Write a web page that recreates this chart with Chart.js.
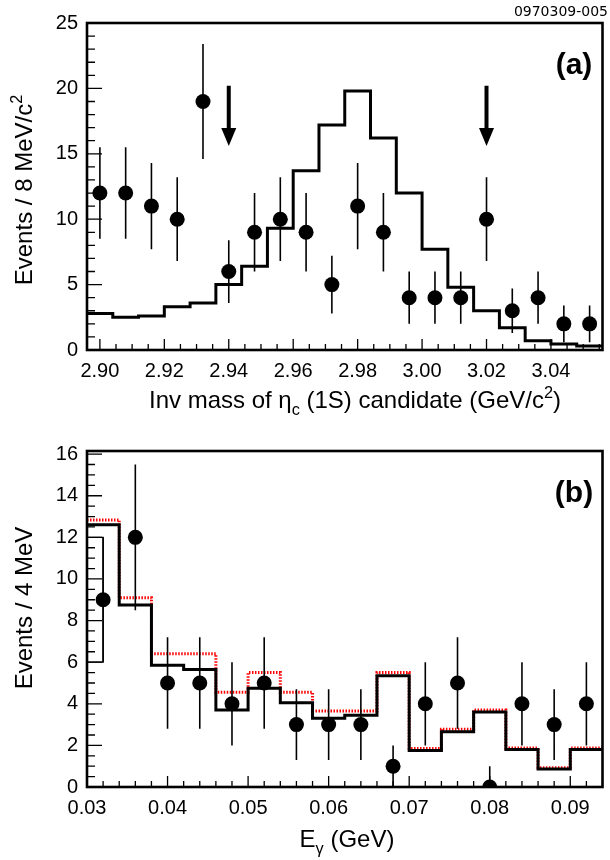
<!DOCTYPE html>
<html>
<head>
<meta charset="utf-8">
<script src="https://cdn.jsdelivr.net/npm/chart.js@4.4.3/dist/chart.umd.min.js"></script>
<style>
  html, body { margin: 0; padding: 0; background: #fff; }
  #wrap { position: relative; width: 610px; height: 860px; overflow: hidden; }
  canvas { position: absolute; left: 0; }
  #chartA { top: 0; }
  #chartB { top: 430px; }
</style>
</head>
<body>
<div id="wrap">
  <canvas id="chartA" width="610" height="430"></canvas>
  <canvas id="chartB" width="610" height="430"></canvas>
</div>
<script>
// -----------------------------
// Panel (a): invariant mass of eta_c(1S) candidates
// -----------------------------
const massCenters = [2.900, 2.908, 2.916, 2.924, 2.932, 2.940, 2.948, 2.956, 2.964, 2.972,
                     2.980, 2.988, 2.996, 3.004, 3.012, 3.020, 3.028, 3.036, 3.044, 3.052];
const massEvents  = [12, 12, 11, 10, 19, 6, 9, 10, 9, 5, 11, 9, 4, 4, 4, 10, 3, 4, 2, 2];
const massErr     = [3.5, 3.5, 3.3, 3.2, 4.4, 2.4, 3.0, 3.2, 3.0, 2.2,
                     3.3, 3.0, 2.0, 2.0, 2.0, 3.2, 1.7, 2.0, 1.4, 1.4];
const massSignal  = [2.8, 2.5, 2.6, 3.3, 3.6, 5.0, 6.4, 9.3, 13.7, 17.2,
                     19.8, 16.2, 12.0, 7.7, 4.8, 3.0, 1.7, 0.7, 0.45, 0.3];
const massBinWidth = 0.008;
const massXTicks = [2.90, 2.92, 2.94, 2.96, 2.98, 3.00, 3.02, 3.04];
const massYTicks = [0, 5, 10, 15, 20, 25];
const massArrowX = [2.94, 3.02];
const massArrowTop = 20.2;
const massArrowTip = 15.6;

// -----------------------------
// Panel (b): photon energy
// -----------------------------
const egCenters = [0.032, 0.036, 0.040, 0.044, 0.048, 0.052, 0.056, 0.060,
                   0.064, 0.068, 0.072, 0.076, 0.080, 0.084, 0.088, 0.092];
const egEvents  = [9, 12, 5, 5, 4, 5, 3, 3, 3, 1, 4, 5, 0, 4, 3, 4];
const egErr     = [3.0, 3.5, 2.2, 2.2, 2.0, 2.2, 1.7, 1.7, 1.7, 1.0, 2.0, 2.2, 1.0, 2.0, 1.7, 2.0];
const egFit     = [12.6, 8.75, 5.85, 5.65, 3.7, 4.75, 4.05, 3.3, 3.45, 5.35, 1.75, 2.65, 3.6, 1.8, 0.86, 1.8];
const egFitAlt  = [12.83, 9.1, 6.4, 6.4, 4.55, 5.5, 4.55, 3.65, 3.65, 5.5, 1.85, 2.77, 3.7, 1.87, 0.93, 1.88];
const egBinWidth = 0.004;
const egXTicks = [0.03, 0.04, 0.05, 0.06, 0.07, 0.08, 0.09];
const egYTicks = [0, 2, 4, 6, 8, 10, 12, 14, 16];
const egBoxX = [0.030, 0.032, 0.032, 0.030];
const egBoxY = [12, 12, 6, 6];

const FONT = "'Liberation Sans', Arial, Helvetica, sans-serif";
Chart.defaults.font.family = FONT;
Chart.defaults.color = "#000";

// bin contents -> step outline points (left edges + closing right edge)
function histPoints(centers, heights, width) {
    const pts = centers.map((c, i) => ({ x: c - width / 2, y: heights[i] }));
    pts.push({ x: centers[centers.length - 1] + width / 2, y: heights[heights.length - 1] });
    return pts;
}

function stepValues(min, max, step) {
    const out = [];
    for (let v = min; v <= max + 1e-9; v += step) out.push(Math.round(v * 1e6) / 1e6);
    return out;
}

// text with simple sub/superscripts: parts = [[text, "sub"|"sup"|undefined], ...]
function drawRich(ctx, x, y, parts, size, align) {
    const small = size * 0.68;
    let total = 0;
    parts.forEach(([t, mode]) => {
        ctx.font = (mode ? small : size) + "px " + FONT;
        total += ctx.measureText(t).width;
    });
    let cx = align === "center" ? x - total / 2 : x;
    ctx.textAlign = "left";
    ctx.textBaseline = "alphabetic";
    parts.forEach(([t, mode]) => {
        ctx.font = (mode ? small : size) + "px " + FONT;
        const dy = mode === "sub" ? size * 0.28 : mode === "sup" ? -size * 0.42 : 0;
        ctx.fillText(t, cx, y + dy);
        cx += ctx.measureText(t).width;
    });
}

// ROOT-like frame with inward ticks, error bars, labels
const rootStyle = {
    id: "rootStyle",
    afterDatasetsDraw(chart, args, opts) {
        const { ctx, chartArea: a, scales: { x, y } } = chart;
        ctx.save();
        ctx.beginPath();
        ctx.rect(a.left, a.top, a.right - a.left, a.bottom - a.top);
        ctx.clip();
        ctx.strokeStyle = "#000";
        ctx.lineWidth = 1.6;
        ctx.beginPath();
        opts.points.forEach((xv, i) => {
            const px = x.getPixelForValue(xv);
            ctx.moveTo(px, y.getPixelForValue(opts.values[i] + opts.errors[i]));
            ctx.lineTo(px, y.getPixelForValue(opts.values[i] - opts.errors[i]));
        });
        ctx.stroke();

        // arrows marking the signal window
        (opts.arrows || []).forEach(xv => {
            const px = x.getPixelForValue(xv);
            const top = y.getPixelForValue(opts.arrowTop);
            const tip = y.getPixelForValue(opts.arrowTip);
            ctx.lineWidth = 4;
            ctx.beginPath();
            ctx.moveTo(px, top);
            ctx.lineTo(px, tip - 16);
            ctx.stroke();
            ctx.fillStyle = "#000";
            ctx.beginPath();
            ctx.moveTo(px - 7.5, tip - 18);
            ctx.lineTo(px + 7.5, tip - 18);
            ctx.lineTo(px, tip);
            ctx.closePath();
            ctx.fill();
        });
        ctx.restore();
    },
    afterDraw(chart, args, opts) {
        const { ctx, chartArea: a, scales: { x, y } } = chart;
        ctx.save();
        ctx.strokeStyle = "#000";
        ctx.lineWidth = 1.3;
        ctx.beginPath();
        const xMajor = x.ticks.map(t => Math.round(t.value * 1e6));
        stepValues(opts.xMinorStart, x.max, opts.xMinorStep).forEach(v => {
            if (v < x.min) return;
            const px = x.getPixelForValue(v);
            const len = xMajor.includes(Math.round(v * 1e6)) ? 11 : 6;
            ctx.moveTo(px, a.bottom);
            ctx.lineTo(px, a.bottom - len);
        });
        const yMajor = y.ticks.map(t => Math.round(t.value * 1e6));
        stepValues(y.min, y.max, opts.yMinorStep).forEach(v => {
            const py = y.getPixelForValue(v);
            const len = yMajor.includes(Math.round(v * 1e6)) ? 15 : 8;
            ctx.moveTo(a.left, py);
            ctx.lineTo(a.left + len, py);
        });
        ctx.stroke();

        ctx.lineWidth = 2.6;
        ctx.strokeRect(a.left, a.top, a.right - a.left, a.bottom - a.top);

        ctx.fillStyle = "#000";
        drawRich(ctx, opts.xTitle.x, opts.xTitle.y, opts.xTitle.parts, 24, "center");
        ctx.save();
        ctx.translate(opts.yTitle.x, opts.yTitle.y);
        ctx.rotate(-Math.PI / 2);
        drawRich(ctx, 0, 0, opts.yTitle.parts, 24, "center");
        ctx.restore();

        ctx.font = "bold 30px " + FONT;
        ctx.textAlign = "center";
        ctx.textBaseline = "alphabetic";
        ctx.fillText(opts.tag.text, opts.tag.x, opts.tag.y);

        if (opts.code) {
            ctx.font = "14px 'DejaVu Sans', sans-serif";
            ctx.textAlign = "right";
            ctx.fillText(opts.code.text, opts.code.x, opts.code.y);
        }
        ctx.restore();
    }
};
Chart.register(rootStyle);

function makePanel(canvasId, cfg) {
    return new Chart(document.getElementById(canvasId), {
        type: "line",
        data: {
            datasets: [
                {
                    label: "Data",
                    data: cfg.points.map((c, i) => ({ x: c, y: cfg.values[i] })),
                    showLine: false,
                    pointRadius: 7.5,
                    pointHoverRadius: 7.5,
                    pointBackgroundColor: "#000",
                    pointBorderWidth: 0,
                    order: 0
                },
                ...cfg.lines
            ]
        },
        options: {
            responsive: false,
            animation: false,
            parsing: false,
            events: [],
            layout: { padding: { left: 0, right: 3, top: cfg.padTop, bottom: 0 } },
            plugins: {
                legend: { display: false },
                tooltip: { enabled: false },
                rootStyle: cfg.style
            },
            scales: {
                x: {
                    type: "linear",
                    min: cfg.xMin,
                    max: cfg.xMax,
                    grid: { display: false, drawTicks: false },
                    border: { display: false },
                    afterBuildTicks: axis => { axis.ticks = cfg.xTicks.map(v => ({ value: v })); },
                    afterFit: axis => { axis.height = cfg.xAxisHeight; },
                    ticks: {
                        autoSkip: false,
                        maxRotation: 0,
                        padding: 9,
                        font: { size: 20 },
                        callback: v => v.toFixed(2)
                    }
                },
                y: {
                    min: cfg.yMin,
                    max: cfg.yMax,
                    grid: { display: false, drawTicks: false },
                    border: { display: false },
                    afterBuildTicks: axis => { axis.ticks = cfg.yTicks.map(v => ({ value: v })); },
                    afterFit: axis => { axis.width = 87; },
                    ticks: { autoSkip: false, padding: 9, font: { size: 20 } }
                }
            }
        }
    });
}

makePanel("chartA", {
    points: massCenters,
    values: massEvents,
    padTop: 23,
    xAxisHeight: 80,
    xMin: 2.896, xMax: 3.056,
    yMin: 0, yMax: 25,
    xTicks: massXTicks,
    yTicks: massYTicks,
    lines: [{
        label: "Signal MC",
        data: histPoints(massCenters, massSignal, massBinWidth),
        stepped: true,
        borderColor: "#000",
        borderWidth: 3,
        pointRadius: 0,
        fill: false,
        order: 1
    }],
    style: {
        points: massCenters, values: massEvents, errors: massErr,
        arrows: massArrowX, arrowTop: massArrowTop, arrowTip: massArrowTip,
        xMinorStart: 2.895, xMinorStep: 0.005, yMinorStep: 1,
        xTitle: { x: 355, y: 408, parts: [["Inv mass of \u03b7"], ["c", "sub"], [" (1S) candidate (GeV/c"], ["2", "sup"], [")"]] },
        yTitle: { x: 32, y: 190, parts: [["Events / 8 MeV/c"], ["2", "sup"]] },
        tag: { text: "(a)", x: 574, y: 74 },
        code: { text: "0970309-005", x: 608, y: 16 }
    }
});

makePanel("chartB", {
    points: egCenters,
    values: egEvents,
    padTop: 9,
    xAxisHeight: 73,
    xMin: 0.030, xMax: 0.094,
    yMin: 0, yMax: 16.15,
    xTicks: egXTicks,
    yTicks: egYTicks,
    lines: [
        {
            label: "Fit",
            data: histPoints(egCenters, egFit, egBinWidth),
            stepped: true,
            borderColor: "#000",
            borderWidth: 3,
            pointRadius: 0,
            fill: false,
            order: 1
        },
        {
            label: "Fit (alt)",
            data: histPoints(egCenters, egFitAlt, egBinWidth),
            stepped: true,
            borderColor: "#ff0000",
            borderWidth: 3,
            borderDash: [1.5, 1.5],
            pointRadius: 0,
            fill: false,
            order: 2
        },
        {
            label: "Box",
            data: egBoxX.map((v, i) => ({ x: v, y: egBoxY[i] })),
            borderColor: "#000",
            borderWidth: 1.3,
            pointRadius: 0,
            fill: false,
            order: 3
        }
    ],
    style: {
        points: egCenters, values: egEvents, errors: egErr,
        xMinorStart: 0.030, xMinorStep: 0.002, yMinorStep: 0.5,
        xTitle: { x: 347, y: 417, parts: [["E"], ["\u03b3", "sub"], [" (GeV)"]] },
        yTitle: { x: 32, y: 178, parts: [["Events / 4 MeV"]] },
        tag: { text: "(b)", x: 574, y: 72 }
    }
});
</script>
</body>
</html>
